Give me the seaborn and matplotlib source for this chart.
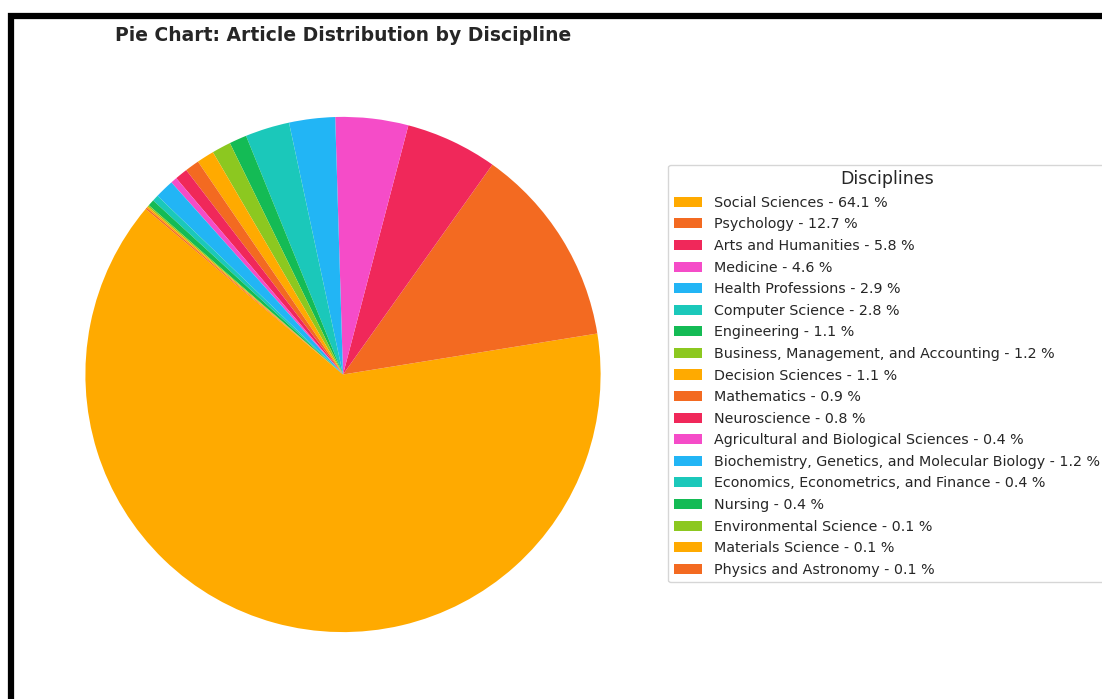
import matplotlib.pyplot as plt
import seaborn as sns
from matplotlib.patches import Rectangle

disciplines = [
    'Social Sciences', 'Psychology', 'Arts and Humanities', 'Medicine',
    'Health Professions', 'Computer Science', 'Engineering',
    'Business, Management, and Accounting', 'Decision Sciences',
    'Mathematics', 'Neuroscience', 'Agricultural and Biological Sciences',
    'Biochemistry, Genetics, and Molecular Biology',
    'Economics, Econometrics, and Finance', 'Nursing',
    'Environmental Science', 'Materials Science', 'Physics and Astronomy',
]
percentages = [64.1, 12.7, 5.8, 4.6, 2.9, 2.8, 1.1, 1.2, 1.1,
               0.9, 0.8, 0.4, 1.2, 0.4, 0.4, 0.1, 0.1, 0.1]
base_colors = ['#FFAA00', '#F36A21', '#F0285A', '#F54CC8',
               '#22B5F5', '#1BC8BA', '#14BB55', '#8CC820']


def main():
    sns.set_style('white')
    palette = sns.color_palette(base_colors)
    colors = [palette[i % len(base_colors)] for i in range(len(disciplines))]

    fig = plt.figure(figsize=(11.02, 6.99), dpi=100)
    ax = fig.add_axes([21 / 1102, 2.5 / 699, 644 / 1102, 644 / 699])
    wedges, _ = ax.pie(percentages, colors=colors, startangle=140,
                       wedgeprops={'linewidth': 0})
    ax.set_aspect('equal')
    ax.set_title('Pie Chart: Article Distribution by Discipline',
                 fontsize=13.5, fontweight='bold', pad=8)

    labels = [f'{d} - {p} %' for d, p in zip(disciplines, percentages)]
    ax.legend(wedges, labels, title='Disciplines', loc='center left',
              bbox_to_anchor=(668 / 1102, 1 - 373.5 / 699),
              bbox_transform=fig.transFigure, borderaxespad=0,
              fontsize=10.3, title_fontsize=12.5, labelspacing=0.53)

    # black frame around the screenshot
    fig.patches.append(Rectangle((11 / 1102, -0.1), 1.2, 1.1 - 16 / 699,
                                 transform=fig.transFigure, fill=False,
                                 edgecolor='black', linewidth=4.5))
    plt.savefig('out.png', dpi=100)
    plt.close(fig)


if __name__ == '__main__':
    main()
